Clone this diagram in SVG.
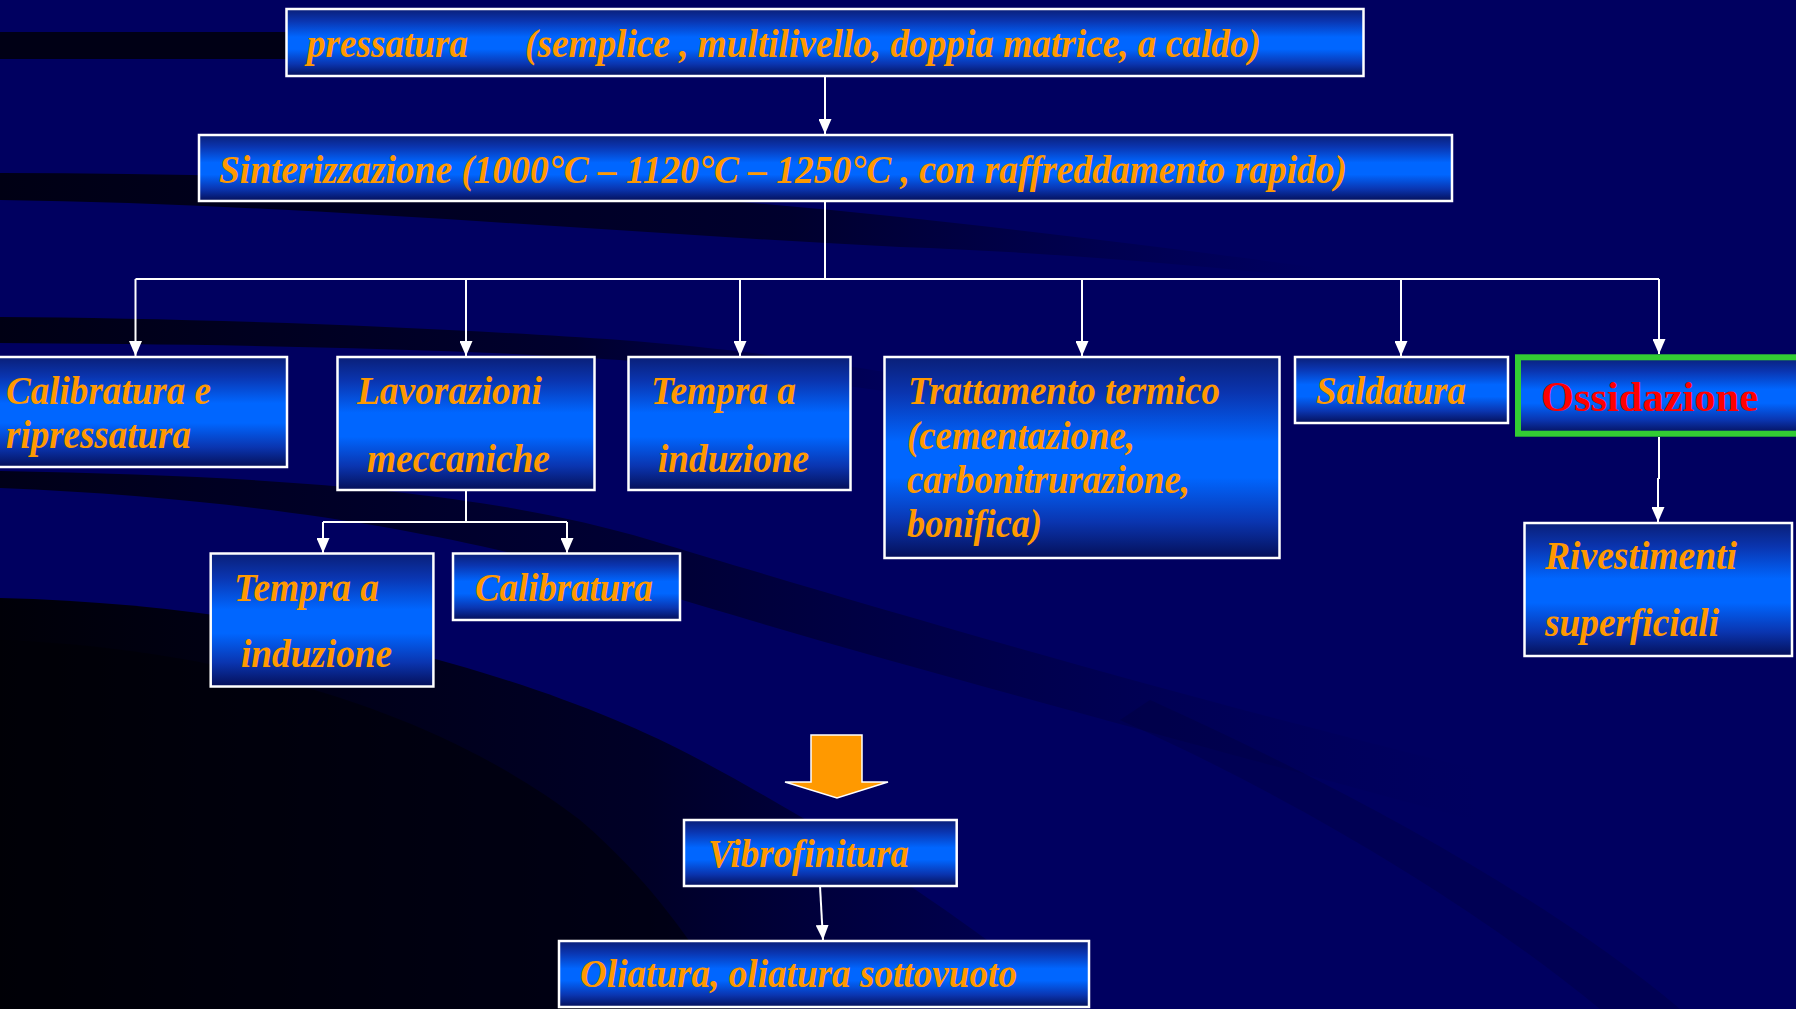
<svg xmlns="http://www.w3.org/2000/svg" width="1796" height="1009" viewBox="0 0 1796 1009">
  <defs>
    <linearGradient id="boxGrad" x1="0" y1="0" x2="0" y2="1">
      <stop offset="0" stop-color="#0a1f78"/>
      <stop offset="0.18" stop-color="#0a35b0"/>
      <stop offset="0.42" stop-color="#0066ff"/>
      <stop offset="0.6" stop-color="#0066ff"/>
      <stop offset="0.82" stop-color="#0a35b0"/>
      <stop offset="1" stop-color="#050f58"/>
    </linearGradient>
    <linearGradient id="fadeR" x1="0" y1="0" x2="1" y2="0">
      <stop offset="0" stop-color="#000010" stop-opacity="0.95"/>
      <stop offset="0.6" stop-color="#000018" stop-opacity="0.7"/>
      <stop offset="1" stop-color="#000030" stop-opacity="0"/>
    </linearGradient>
    <linearGradient id="fadeR2" x1="0" y1="0" x2="1" y2="0">
      <stop offset="0" stop-color="#000010" stop-opacity="0.9"/>
      <stop offset="0.45" stop-color="#000018" stop-opacity="0.6"/>
      <stop offset="1" stop-color="#000040" stop-opacity="0"/>
    </linearGradient>
    <linearGradient id="bottomDark" x1="0" y1="0" x2="1" y2="0">
      <stop offset="0" stop-color="#000008" stop-opacity="1"/>
      <stop offset="0.6" stop-color="#000018" stop-opacity="0.8"/>
      <stop offset="1" stop-color="#000030" stop-opacity="0.25"/>
    </linearGradient>
    <marker id="arr" markerUnits="userSpaceOnUse" markerWidth="15" markerHeight="13" refX="15" refY="6.5" orient="auto">
      <path d="M0,0 L15,6.5 L0,13 z" fill="#ffffff"/>
    </marker>
    <style>
      .box { fill: url(#boxGrad); stroke: #ffffff; stroke-width: 2.5; }
      .lbl { font-family: "Liberation Serif", "Times New Roman", serif; font-weight: bold; font-style: italic; font-size: 40px; fill: #ff9900; }
      .conn { fill: none; stroke: #ffffff; stroke-width: 2; }
    </style>
  </defs>

  <!-- background -->
  <rect x="0" y="0" width="1796" height="1009" fill="#000060"/>
  <g id="background-swooshes">
    <path d="M0,32 L700,32 L700,59 L0,59 z" fill="#000015"/>
    <path d="M0,173 C300,174 600,185 900,217 C1050,233 1200,252 1320,268 L1320,278 C1200,266 1050,252 900,247 C600,232 300,204 0,200 z" fill="url(#fadeR)"/>
    <path d="M0,317 C200,318 450,328 620,340 C750,350 850,365 960,385 L960,402 C850,386 750,372 620,360 C450,348 200,344 0,343 z" fill="url(#fadeR)"/>
    <path d="M0,471 C300,476 500,495 650,540 C850,600 1150,690 1480,770 L1480,822 C1150,732 850,652 650,590 C500,545 300,500 0,488 z" fill="url(#fadeR2)"/>
    <path d="M0,598 C300,605 550,680 700,760 C850,840 980,930 1076,1009 L0,1009 z" fill="url(#bottomDark)"/>
    <path d="M0,640 C250,650 450,720 580,820 C650,880 700,950 730,1009 L0,1009 z" fill="#000005" opacity="0.55"/>
    <path d="M1150,700 C1350,790 1550,900 1680,1009 L1600,1009 C1480,910 1300,800 1120,720 z" fill="#000030" opacity="0.25"/>
  </g>

  <!-- connectors -->
  <g id="connectors">
    <line class="conn" x1="825" y1="76" x2="825" y2="134" marker-end="url(#arr)"/>
    <polyline class="conn" points="825,201 825,279"/>
    <polyline class="conn" points="135.5,279 1659,279"/>
    <line class="conn" x1="135.5" y1="279" x2="135.5" y2="356" marker-end="url(#arr)"/>
    <line class="conn" x1="466" y1="279" x2="466" y2="356" marker-end="url(#arr)"/>
    <line class="conn" x1="740" y1="279" x2="740" y2="356" marker-end="url(#arr)"/>
    <line class="conn" x1="1082" y1="279" x2="1082" y2="356" marker-end="url(#arr)"/>
    <line class="conn" x1="1401" y1="279" x2="1401" y2="356" marker-end="url(#arr)"/>
    <line class="conn" x1="1659" y1="279" x2="1659" y2="354" marker-end="url(#arr)"/>
    <polyline class="conn" points="466,490 466,522"/>
    <polyline class="conn" points="323,522 567,522"/>
    <line class="conn" x1="323" y1="522" x2="323" y2="553" marker-end="url(#arr)"/>
    <line class="conn" x1="567" y1="522" x2="567" y2="553" marker-end="url(#arr)"/>
    <polyline class="conn" points="1659,437 1659,478 1658,478"/>
    <line class="conn" x1="1658" y1="478" x2="1658" y2="522" marker-end="url(#arr)"/>
    <line class="conn" x1="820" y1="886" x2="823" y2="940" marker-end="url(#arr)"/>
    <path id="big-arrow" d="M811,735 L862,735 L862,782 L888,782 L837,798 L785,782 L811,782 z" fill="#ff9900" stroke="#ffffff" stroke-width="1.5"/>
  </g>

  <!-- nodes -->
  <g id="n-pressatura">
    <rect class="box" x="286.5" y="9" width="1077" height="67"/>
    <text class="lbl" y="57"><tspan x="307" textLength="161" lengthAdjust="spacingAndGlyphs">pressatura</tspan><tspan x="525" textLength="736" lengthAdjust="spacingAndGlyphs">(semplice , multilivello, doppia matrice, a caldo)</tspan></text>
  </g>
  <g id="n-sinterizzazione">
    <rect class="box" x="199" y="135" width="1253" height="66"/>
    <text class="lbl" x="219" y="183" textLength="1128" lengthAdjust="spacingAndGlyphs">Sinterizzazione (1000°C – 1120°C – 1250°C , con raffreddamento rapido)</text>
  </g>
  <g id="n-calibratura-ripressatura">
    <rect class="box" x="-10" y="357" width="297" height="110"/>
    <text class="lbl" x="6" y="404" textLength="205" lengthAdjust="spacingAndGlyphs">Calibratura e</text>
    <text class="lbl" x="6" y="448" textLength="185" lengthAdjust="spacingAndGlyphs">ripressatura</text>
  </g>
  <g id="n-lavorazioni">
    <rect class="box" x="337.5" y="357" width="257" height="133"/>
    <text class="lbl" x="357" y="404" textLength="185" lengthAdjust="spacingAndGlyphs">Lavorazioni</text>
    <text class="lbl" x="367" y="472" textLength="183" lengthAdjust="spacingAndGlyphs">meccaniche</text>
  </g>
  <g id="n-tempra1">
    <rect class="box" x="628.5" y="357" width="222" height="133"/>
    <text class="lbl" x="651" y="404" textLength="145" lengthAdjust="spacingAndGlyphs">Tempra a</text>
    <text class="lbl" x="658" y="472" textLength="151" lengthAdjust="spacingAndGlyphs">induzione</text>
  </g>
  <g id="n-trattamento">
    <rect class="box" x="884.5" y="357" width="395" height="201"/>
    <text class="lbl" x="908" y="404" textLength="312" lengthAdjust="spacingAndGlyphs">Trattamento termico</text>
    <text class="lbl" x="907" y="449" textLength="228" lengthAdjust="spacingAndGlyphs">(cementazione,</text>
    <text class="lbl" x="907" y="493" textLength="283" lengthAdjust="spacingAndGlyphs">carbonitrurazione,</text>
    <text class="lbl" x="907" y="537" textLength="135" lengthAdjust="spacingAndGlyphs">bonifica)</text>
  </g>
  <g id="n-saldatura">
    <rect class="box" x="1295" y="357" width="213" height="66"/>
    <text class="lbl" x="1316" y="404" textLength="150" lengthAdjust="spacingAndGlyphs">Saldatura</text>
  </g>
  <g id="n-ossidazione">
    <rect x="1518" y="357.3" width="300" height="76.4" fill="url(#boxGrad)" stroke="#33cc33" stroke-width="6"/>
    <text x="1541" y="411" font-family="Liberation Serif, 'Times New Roman', serif" font-weight="bold" font-size="43" fill="#ff0000" textLength="217" lengthAdjust="spacingAndGlyphs">Ossidazione</text>
  </g>
  <g id="n-rivestimenti">
    <rect class="box" x="1524.5" y="523" width="267.5" height="133"/>
    <text class="lbl" x="1545" y="569" textLength="192" lengthAdjust="spacingAndGlyphs">Rivestimenti</text>
    <text class="lbl" x="1545" y="636" textLength="174" lengthAdjust="spacingAndGlyphs">superficiali</text>
  </g>
  <g id="n-tempra2">
    <rect class="box" x="210.7" y="553.5" width="222.7" height="133"/>
    <text class="lbl" x="234" y="601" textLength="145" lengthAdjust="spacingAndGlyphs">Tempra a</text>
    <text class="lbl" x="241" y="667" textLength="151" lengthAdjust="spacingAndGlyphs">induzione</text>
  </g>
  <g id="n-calibratura">
    <rect class="box" x="453" y="553.5" width="227" height="66.5"/>
    <text class="lbl" x="475" y="601" textLength="178" lengthAdjust="spacingAndGlyphs">Calibratura</text>
  </g>
  <g id="n-vibrofinitura">
    <rect class="box" x="684" y="820" width="272.7" height="66"/>
    <text class="lbl" x="708" y="867" textLength="201" lengthAdjust="spacingAndGlyphs">Vibrofinitura</text>
  </g>
  <g id="n-oliatura">
    <rect class="box" x="559" y="941" width="530" height="66"/>
    <text class="lbl" x="580" y="987" textLength="437" lengthAdjust="spacingAndGlyphs">Oliatura, oliatura sottovuoto</text>
  </g>
</svg>
